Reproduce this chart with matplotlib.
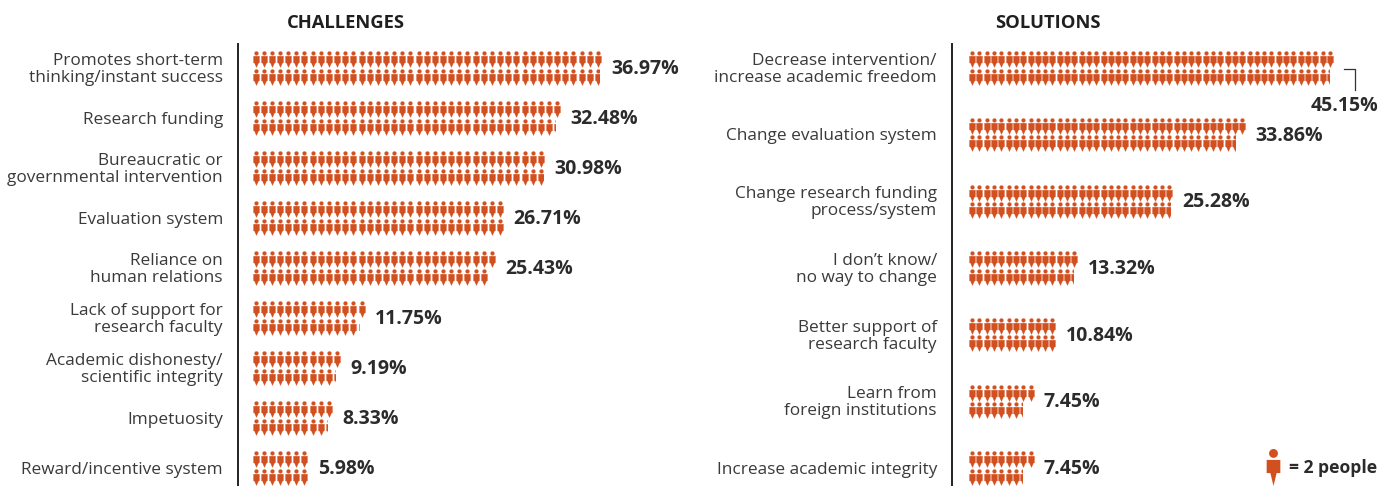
import math

import matplotlib
matplotlib.use('Agg')
import matplotlib.pyplot as plt
from matplotlib.path import Path
from matplotlib.patches import Rectangle

plt.rcParams['font.family'] = ['Open Sans', 'DejaVu Sans']

challenge_labels = ['Promotes short-term\nthinking/instant success', 'Research funding',
                    'Bureaucratic or\ngovernmental intervention', 'Evaluation system',
                    'Reliance on\nhuman relations', 'Lack of support for\nresearch faculty',
                    'Academic dishonesty/\nscientific integrity', 'Impetuosity',
                    'Reward/incentive system']
challenge_values = [36.97, 32.48, 30.98, 26.71, 25.43, 11.75, 9.19, 8.33, 5.98]

solution_labels = ['Decrease intervention/\nincrease academic freedom', 'Change evaluation system',
                   'Change research funding\nprocess/system', 'I don\u2019t know/\nno way to change',
                   'Better support of\nresearch faculty', 'Learn from\nforeign institutions',
                   'Increase academic integrity']
solution_values = [45.15, 33.86, 25.28, 13.32, 10.84, 7.45, 7.45]

W, H = 1378, 486
ORANGE = '#d2501f'
INK = '#2b2b2b'
LABEL = '#3a3a3a'


def person_path(hip, leg):
    # head, shoulders and a body tapering to a point, height -1..1
    head = Path.circle((0, 0.76), 0.24)
    body = Path([(-0.37, 0.41), (0.37, 0.41), (0.37, hip), (leg, hip), (0, -1), (-leg, hip),
                 (-0.37, hip), (-0.37, 0.41)],
                [Path.MOVETO] + [Path.LINETO] * 6 + [Path.CLOSEPOLY])
    return Path.make_compound_path(head, body)


PERSON = person_path(-0.3, 0.17)
# the small figures need longer, fuller legs to read at this size
PERSON_SMALL = person_path(-0.42, 0.26)


def marker_size(height_px):
    return (height_px * 72 / 100) ** 2


def draw_people(ax, xs, row_y):
    sc = ax.scatter(xs, [row_y] * len(xs), marker=PERSON_SMALL, s=marker_size(16), color=ORANGE,
                    linewidths=0.2, edgecolors=ORANGE, clip_on=False)
    # snapping pulls the small figures together unevenly
    sc.set_snap(False)
    return sc


def draw_panel(left, right, x0, title, title_x, labels, values, per_pct, spacing, first_y, step):
    # pixel box of the panel -> figure fractions, spine on the left edge
    top, bottom = 44, 486
    ax = fig.add_axes([left / W, 1 - bottom / H, (right - left) / W, (bottom - top) / H])
    px_per_pct = per_pct / 2 * spacing
    ax.set_xlim((left - x0) / px_per_pct, (right - x0) / px_per_pct)
    ax.set_ylim((bottom - first_y) / step, (top - first_y) / step)
    for s in ['top', 'right', 'bottom']:
        ax.spines[s].set_visible(False)
    ax.spines['left'].set_color('#222222')
    ax.spines['left'].set_linewidth(1.4)
    ax.set_xticks([])
    ax.set_yticks([])
    ax.patch.set_alpha(0)

    dx = spacing / px_per_pct
    dy = 8.8 / step
    for i, v in enumerate(values):
        count = v * per_pct
        cols = count / 2
        top_n = math.ceil(cols)
        bottom_n = count - top_n
        for row_y, n in [(i - dy, top_n), (i + dy, bottom_n)]:
            whole = int(n)
            draw_people(ax, [(k + 0.5) * dx for k in range(whole)], row_y)
            part = n - whole
            if part > 0:
                # last figure is only partly filled
                sc = draw_people(ax, [(whole + 0.5) * dx], row_y)
                clip = Rectangle((whole * dx, row_y - 0.5), part * dx, 1, transform=ax.transData)
                sc.set_clip_on(True)
                sc.set_clip_path(clip)

        ax.annotate(labels[i], xy=(0, i), xycoords=('axes fraction', 'data'), xytext=(-15, -1.5),
                    textcoords='offset pixels', ha='right', va='center', fontsize=12.45,
                    color=LABEL, linespacing=1.1)

        end = math.ceil(cols) * dx
        if i == 0 and title == 'SOLUTIONS':
            # this bar runs too long, so its label sits underneath with a leader
            ax.annotate(f'{v:.2f}%', xy=(end, i), xytext=(45, -38), textcoords='offset pixels',
                        ha='right', va='center', fontsize=14, fontweight='bold', color=INK)
            xa = end + 10 / px_per_pct
            xb = end + 21 / px_per_pct
            ax.plot([xa, xb, xb], [i + 1 / step, i + 1 / step, i + 22 / step], color='#333333', lw=0.9,
                    clip_on=False)
        else:
            ax.annotate(f'{v:.2f}%', xy=(end, i), xytext=(9.5, -1), textcoords='offset pixels',
                        ha='left', va='center', fontsize=14, fontweight='bold', color=INK)

    fig.text(title_x / W, 1 - 23.5 / H, title, ha='center', va='center', fontsize=13.2,
             fontweight='bold', color='#1f1f1f')
    return ax


fig = plt.figure(figsize=(W / 100, H / 100), dpi=100)

draw_panel(238, 700, 251.5, 'CHALLENGES', 346, challenge_labels, challenge_values, 2.316, 8.15, 68, 50)
ax2 = draw_panel(952, 1378, 968.5, 'SOLUTIONS', 1048, solution_labels, solution_values, 2.2, 7.3, 68, 66.67)

# key in the bottom corner
ax2.scatter([0.7535], [0.042], marker=PERSON, s=marker_size(37), color=ORANGE, linewidths=0,
            transform=ax2.transAxes, clip_on=False)
fig.text(1377 / W, 1 - 468 / H, '= 2 people', ha='right', va='center', fontsize=12.6,
         fontweight='bold', color=INK)

fig.savefig('out.png', dpi=100)
